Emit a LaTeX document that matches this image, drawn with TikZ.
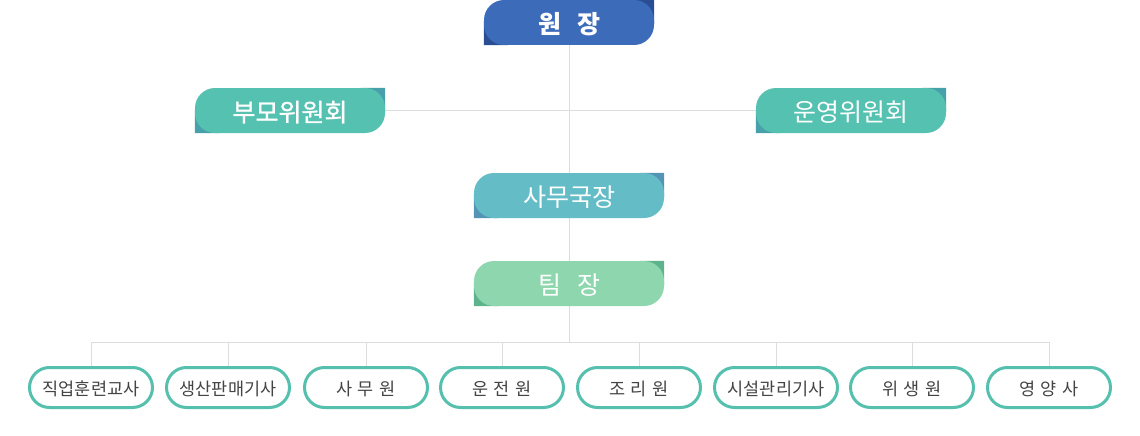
\documentclass[tikz,border=0pt]{standalone}
\usepackage{fontspec}
\setmainfont{Noto Sans CJK KR}
\newfontfamily\medkr[FakeBold=1]{Noto Sans CJK KR}
\usetikzlibrary{backgrounds}
\definecolor{wonL}{HTML}{3C6BB9}
\definecolor{wonD}{HTML}{2A4E93}
\definecolor{comL}{HTML}{55C1B1}
\definecolor{comD}{HTML}{48A1AA}
\definecolor{samL}{HTML}{64BDC6}
\definecolor{samD}{HTML}{5495B6}
\definecolor{teaL}{HTML}{8ED6AD}
\definecolor{teaD}{HTML}{5DB48C}
\definecolor{bord}{HTML}{55C0AE}
\definecolor{lin}{HTML}{DDDDDD}
\definecolor{txt}{HTML}{444444}
\tikzset{
  head/.style={inner sep=0pt, minimum width=190pt, minimum height=45pt, rounded corners=20pt, text=white, font=\fontsize{25pt}{28pt}\selectfont, text height=24pt, text depth=2pt},
  staff/.style={draw=bord, line width=3pt, fill=white, inner sep=0pt, minimum width=123pt, minimum height=40pt, rounded corners=20pt, text=txt, font=\fontsize{17.5pt}{20pt}\selectfont, text height=17pt, text depth=1pt},
  conn/.style={draw=lin, line width=1pt}
}
\newcommand{\corners}[2]{%
  \fill[#2] (#1.north east) -- ++(-24pt,0) -- ++(24pt,-24pt) -- cycle;
  \fill[#2] (#1.south west) -- ++(24pt,0) -- ++(-24pt,24pt) -- cycle;}
\begin{document}
\begin{tikzpicture}[x=1pt,y=-1pt]
\useasboundingbox (0,0) rectangle (1140,436);
% header boxes
\node[head, fill=wonL, minimum width=170pt, font=\bfseries\fontsize{25pt}{28pt}\selectfont] (won) at (569,22.5) {원\hspace{16pt}장};
\node[head, fill=comL, font=\medkr\fontsize{25pt}{28pt}\selectfont] (bumo) at (290,110.5) {부모위원회};
\node[head, fill=comL] (unyeong) at (851,110.5) {운영위원회};
\node[head, fill=samL] (samu) at (569,195.5) {사무국장};
\node[head, fill=teaL] (team) at (569,283.5) {팀\hspace{16pt}장};
% staff boxes
\node[staff] (s1) at (91,387.5) {직업훈련교사};
\node[staff] (s2) at (228,387.5) {생산판매기사};
\node[staff] (s3) at (366,387.5) {사\hspace{5pt}무\hspace{5pt}원};
\node[staff] (s4) at (502,387.5) {운\hspace{5pt}전\hspace{5pt}원};
\node[staff] (s5) at (639,387.5) {조\hspace{5pt}리\hspace{5pt}원};
\node[staff] (s6) at (776,387.5) {시설관리기사};
\node[staff] (s7) at (912,387.5) {위\hspace{5pt}생\hspace{5pt}원};
\node[staff] (s8) at (1049,387.5) {영\hspace{5pt}양\hspace{5pt}사};
\coordinate (bus) at (569,342.5);
\begin{scope}[on background layer]
  \corners{won}{wonD}
  \corners{bumo}{comD}
  \corners{unyeong}{comD}
  \corners{samu}{samD}
  \corners{team}{teaD}
  \draw[conn] (won) -- (samu);
  \draw[conn] (samu) -- (team);
  \draw[conn] (bumo) -- (unyeong);
  \draw[conn] (team) -- (bus);
  \foreach \s in {s1,s2,s3,s4,s5,s6,s7,s8} {\draw[conn] (\s.north) |- (bus);}
\end{scope}
\end{tikzpicture}
\end{document}
